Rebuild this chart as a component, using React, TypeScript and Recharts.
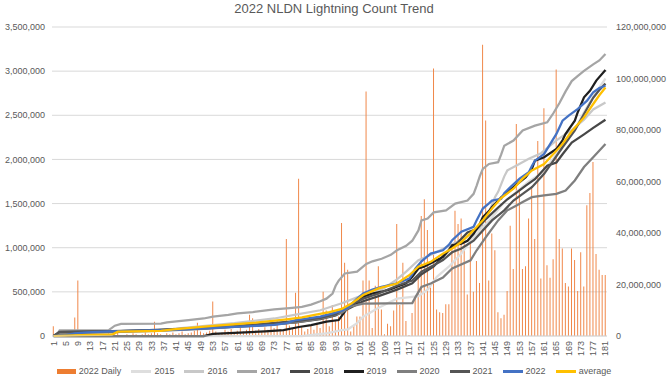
import { ComposedChart, Bar, Line, XAxis, YAxis, CartesianGrid, Legend } from 'recharts'

// 2022 daily flash counts, millions (day 1..181)
const daily2022 = [
  0.11, 0.02, 0.01, 0.02, 0.01, 0, 0.02, 0.21, 0.63, 0.03,
  0.01, 0.02, 0, 0.01, 0.02, 0.01, 0, 0.02, 0.03, 0.01,
  0.02, 0.05, 0.01, 0, 0.02, 0.01, 0.03, 0.02, 0.01, 0.02,
  0.04, 0.02, 0.03, 0.16, 0.03, 0.02, 0.01, 0.03, 0.02, 0.04,
  0.02, 0.03, 0.05, 0.02, 0.03, 0.04, 0.06, 0.15, 0.05, 0.03,
  0.04, 0.06, 0.39, 0.05, 0.03, 0.04, 0.07, 0.05, 0.08, 0.04,
  0.06, 0.09, 0.05, 0.07, 0.24, 0.2, 0.06, 0.08, 0.05, 0.1,
  0.07, 0.12, 0.09, 0.17, 0.08, 0.06, 1.1, 0.12, 0.09, 0.49,
  1.78, 0.1, 0.05, 0.08, 0.12, 0.07, 0.15, 0.09, 0.5, 0.29,
  0.11, 0.35, 0.18, 0.22, 1.28, 0.83, 0.75, 0.05, 0.12, 0.22,
  0.22, 0.63, 2.77, 0.63, 0.09, 0.57, 0.79, 0.3, 0.02, 0.14,
  0.11, 0.29, 1.27, 0.35, 0.83, 0.17, 0.01, 0.26, 0.45, 0.67,
  1.36, 1.55, 1.2, 0.55, 3.03, 0.3, 0.27, 0.26, 0.36, 0.36,
  1.01, 1.42, 1.27, 1.33, 1.05, 0.47, 1.16, 0.5, 0.85, 0.6,
  3.3, 2.44, 0.63, 1.16, 0.97, 0.27, 0.2, 0.24, 0.51, 1.25,
  0.76, 2.4, 1.64, 0.76, 0.79, 1.33, 1.7, 1.1, 2.21, 0.65,
  2.58, 0.8, 0.66, 0.87, 3.02, 1.1, 0.99, 0.6, 0.56, 0.99,
  0.86, 0.51, 0.95, 0.56, 1.48, 1.62, 1.97, 0.93, 0.75, 0.69,
  0.69,
]

// cumulative counts, millions, as [day, value] readings
const y2015 = [[1, 0], [82, 0], [86, 0.5], [90, 1], [95, 2.3], [97, 2.6], [100, 5], [102, 7.5], [107, 11], [113, 14.5], [120, 15.5], [123, 18], [126, 23], [130, 27], [134, 32], [137, 37], [140, 41], [144, 46], [148, 52], [152, 56], [156, 60], [160, 63], [164, 69], [168, 76], [171, 80], [174, 87], [177, 93], [181, 100]]
const y2016 = [[1, 0], [10, 0.8], [40, 2.8], [60, 5], [73, 6.8], [80, 8.3], [88, 10], [95, 12.7], [100, 15], [108, 18], [113, 22], [116, 25], [120, 29.4], [125, 32], [130, 35], [135, 38], [140, 42], [143, 48], [145, 54], [146, 56], [148, 62], [149, 64.3], [152, 66.2], [156, 68.8], [160, 71], [165, 76], [170, 80], [174, 84], [177, 88], [181, 90.7]]
const y2017 = [[1, 0], [2, 0.5], [3, 2.2], [19, 2.3], [21, 4], [23, 4.7], [36, 4.8], [38, 5.3], [45, 6.2], [50, 6.8], [53, 7.5], [58, 8.2], [61, 8.8], [66, 9.3], [73, 10.3], [78, 10.8], [82, 11.3], [85, 12.2], [88, 13.5], [90, 14.5], [92, 16.5], [93, 19.5], [94, 21.5], [96, 24.3], [100, 25], [103, 28], [105, 29], [108, 30], [111, 31.5], [113, 33.3], [116, 35], [118, 37], [120, 41], [121, 44.9], [123, 45.6], [125, 48], [129, 48.8], [132, 51.4], [136, 52.6], [138, 55.2], [139, 58.4], [140, 62], [141, 64.9], [143, 66.8], [146, 67.5], [147, 70.5], [148, 73.9], [151, 75.9], [154, 79.8], [158, 81.7], [162, 83], [164, 86.5], [166, 90.5], [168, 95], [170, 99], [172, 101], [174, 103], [177, 105.5], [179, 107], [181, 109.5]]
const y2018 = [[1, 0], [3, 1.5], [20, 1.8], [35, 2.3], [50, 3], [60, 3.6], [70, 4.2], [80, 5.3], [88, 6.5], [93, 8], [97, 10.5], [102, 13.5], [107, 15.5], [113, 18], [118, 20.5], [121, 24], [125, 27], [128, 31], [131, 34.5], [133, 36.5], [136, 40.2], [139, 41.5], [142, 45.4], [146, 49.9], [149, 53.1], [152, 55.7], [155, 58.4], [158, 60.9], [162, 66.1], [165, 67.4], [167, 70.6], [170, 75.1], [174, 78.3], [177, 80.8], [181, 84]]
const y2019 = [[1, 0], [50, 0], [53, 0.8], [60, 1.2], [70, 1.8], [76, 2.3], [81, 3.5], [85, 4.2], [90, 5.6], [94, 6.2], [96, 9.5], [97, 11.4], [100, 13], [102, 15.3], [105, 16.5], [108, 17.2], [111, 18.2], [113, 19.1], [116, 20.5], [118, 23], [120, 26.2], [122, 27], [125, 28.8], [128, 30.7], [130, 33.5], [131, 35.2], [134, 35.9], [136, 37], [138, 39.7], [140, 43.5], [141, 46.2], [143, 48.5], [144, 50.1], [147, 53.9], [151, 57.8], [155, 61.7], [157, 65], [158, 68.1], [161, 69.4], [165, 72.6], [167, 76], [168, 78.5], [171, 83.6], [172, 87], [174, 92.7], [176, 95.3], [178, 99.2], [181, 103.3]]
const y2020 = [[1, 0], [3, 0.8], [10, 1.2], [20, 1.5], [35, 2], [50, 2.8], [60, 3.5], [70, 4.3], [80, 5.3], [85, 6.2], [90, 7.2], [95, 9], [98, 11.5], [102, 12.6], [118, 12.8], [119, 15], [121, 19.1], [124, 20.4], [128, 22.7], [131, 26.2], [137, 29.4], [139, 33.3], [142, 38.4], [146, 44.9], [149, 48.8], [152, 50.7], [154, 52], [157, 53.9], [161, 54.6], [165, 55.2], [168, 56.5], [171, 60.4], [174, 65.6], [177, 69.4], [181, 74.6]]
const y2021 = [[1, 0], [3, 1.6], [20, 1.9], [35, 2.4], [50, 3.2], [60, 3.8], [70, 4.8], [80, 5.8], [88, 7], [93, 8.5], [97, 11.5], [102, 14.5], [107, 16.5], [113, 19.5], [118, 21.5], [121, 25], [125, 27.5], [128, 29.5], [131, 32.5], [134, 34], [138, 37], [141, 41], [144, 44.9], [148, 48.8], [151, 52.6], [154, 55.2], [157, 57.8], [161, 63], [164, 68.1], [167, 73.3], [171, 79.8], [174, 86.2], [177, 92.5], [179, 95.5], [181, 98]]
const y2022 = [[1, 0], [5, 0.3], [8, 1], [12, 1.4], [19, 1.8], [30, 2.1], [40, 2.4], [51, 3], [60, 3.5], [67, 3.9], [73, 4.3], [77, 5], [80, 6.2], [84, 6.8], [88, 7.5], [92, 8.8], [95, 9.8], [97, 11], [100, 14.5], [102, 16.5], [105, 18], [108, 19.1], [113, 20.4], [117, 22.3], [118, 24], [119, 26.2], [121, 29], [124, 32], [128, 33.3], [130, 35.5], [131, 37.2], [134, 40.5], [138, 42.4], [139, 45], [141, 49.5], [143, 51.5], [144, 52.6], [147, 53.3], [148, 55.5], [150, 57.8], [153, 61.1], [156, 63.6], [157, 66], [158, 68.1], [161, 70.7], [163, 74.6], [165, 78.5], [167, 83.6], [169, 85.6], [172, 88.2], [175, 91.4], [177, 94.6], [179, 96.3], [181, 97.2]]
const yAverage = [[1, 0], [10, 0.3], [20, 0.5], [22, 1.7], [36, 2], [40, 2.6], [53, 3.9], [67, 5.2], [77, 6.5], [82, 7.2], [87, 8.4], [91, 9.3], [95, 10.5], [98, 12.5], [102, 15.9], [107, 18.5], [113, 20.4], [117, 23.6], [120, 26.9], [124, 28.8], [128, 32], [131, 34], [134, 36.5], [138, 41.1], [141, 44.9], [144, 49.5], [147, 53.6], [151, 57.2], [154, 61.1], [157, 64.3], [161, 66.8], [164, 70.7], [167, 74.6], [170, 79.5], [174, 84.9], [177, 90.1], [179, 93.5], [181, 96.5]]

const leftTicks = [0, 0.5, 1, 1.5, 2, 2.5, 3, 3.5]
const rightTicks = [0, 20, 40, 60, 80, 100, 120]

const SERIES = [
  { name: '2015', points: y2015, color: '#dedede' },
  { name: '2016', points: y2016, color: '#c8c8c8' },
  { name: '2017', points: y2017, color: '#a5a5a5' },
  { name: '2018', points: y2018, color: '#474747' },
  { name: '2019', points: y2019, color: '#1f1f1f' },
  { name: '2020', points: y2020, color: '#7f7f7f' },
  { name: '2021', points: y2021, color: '#555555' },
  { name: '2022', points: y2022, color: '#4472c4' },
  { name: 'average', points: yAverage, color: '#ffc000' },
]

const FONT = '"Liberation Sans", Arial, sans-serif'
const TEXT = '#595959'
const BAR_COLOR = '#f0884a'

const fmt = (v: number) => Math.round(v * 1e6).toLocaleString('en-US')

const barData = daily2022.map((v, i) => ({ day: i + 1, daily: v }))
const toPts = (pts: number[][]) => pts.map(([d, v]) => ({ d, v }))

const XTick = ({ x, y, payload }: any) => (
  <text
    x={x}
    y={y}
    transform={`rotate(-90 ${x} ${y})`}
    textAnchor="end"
    dominantBaseline="central"
    fontSize={9}
    fontFamily={FONT}
    fill={TEXT}
  >
    {payload.value}
  </text>
)

const LegendBox = () => (
  <div
    style={{
      height: 18,
      boxSizing: 'border-box',
      paddingTop: 9,
      display: 'flex',
      justifyContent: 'center',
      alignItems: 'center',
      fontFamily: FONT,
      fontSize: 9,
      lineHeight: '9px',
      color: TEXT,
    }}
  >
    <span style={{ display: 'inline-flex', alignItems: 'center', margin: '0 5px' }}>
      <span style={{ width: 19, height: 5, background: '#ed7d31', marginRight: 3 }} />
      2022 Daily
    </span>
    {SERIES.map((s) => (
      <span key={s.name} style={{ display: 'inline-flex', alignItems: 'center', margin: '0 5px' }}>
        <span style={{ width: 20, height: 2.5, background: s.color, marginRight: 3 }} />
        {s.name}
      </span>
    ))}
  </div>
)

export default function App() {
  return (
    <div style={{ position: 'absolute', left: 0, top: 0, width: 668, height: 376, background: '#fff' }}>
      <div
        style={{
          position: 'absolute',
          top: 1,
          left: 0,
          width: 668,
          textAlign: 'center',
          fontFamily: FONT,
          fontSize: 13,
          lineHeight: '16px',
          color: TEXT,
        }}
      >
        2022 NLDN Lightning Count Trend
      </div>
      <ComposedChart
        width={668}
        height={376}
        data={barData}
        margin={{ top: 27, right: 0, bottom: 0, left: 0 }}
        barCategoryGap="26%"
      >
        <CartesianGrid xAxisId="c" yAxisId="l" vertical={false} stroke="#d9d9d9" />
        <XAxis
          xAxisId="c"
          dataKey="day"
          interval={3}
          tickLine={false}
          axisLine={{ stroke: '#d9d9d9' }}
          tickSize={0}
          tickMargin={5}
          height={22}
          tick={<XTick />}
        />
        <XAxis xAxisId="n" type="number" dataKey="d" domain={[0.5, 181.5]} allowDataOverflow hide />
        <YAxis
          yAxisId="l"
          orientation="left"
          width={52}
          domain={[0, 3.5]}
          ticks={leftTicks}
          tickFormatter={fmt}
          axisLine={false}
          tickLine={false}
          tickSize={0}
          tickMargin={7}
          tick={{ fontSize: 9, fill: TEXT, fontFamily: FONT }}
        />
        <YAxis
          yAxisId="r"
          orientation="right"
          width={61}
          domain={[0, 120]}
          ticks={rightTicks}
          tickFormatter={fmt}
          axisLine={false}
          tickLine={false}
          tickSize={0}
          tickMargin={9}
          tick={{ fontSize: 9, fill: TEXT, fontFamily: FONT }}
        />
        <Bar xAxisId="c" yAxisId="l" dataKey="daily" name="2022 Daily" fill={BAR_COLOR} isAnimationActive={false} />
        {SERIES.map((s) => (
          <Line
            key={s.name}
            xAxisId="n"
            yAxisId="r"
            data={toPts(s.points)}
            dataKey="v"
            name={s.name}
            type="linear"
            stroke={s.color}
            strokeWidth={2.25}
            dot={false}
            activeDot={false}
            isAnimationActive={false}
          />
        ))}
        <Legend verticalAlign="bottom" content={<LegendBox />} />
      </ComposedChart>
    </div>
  )
}
